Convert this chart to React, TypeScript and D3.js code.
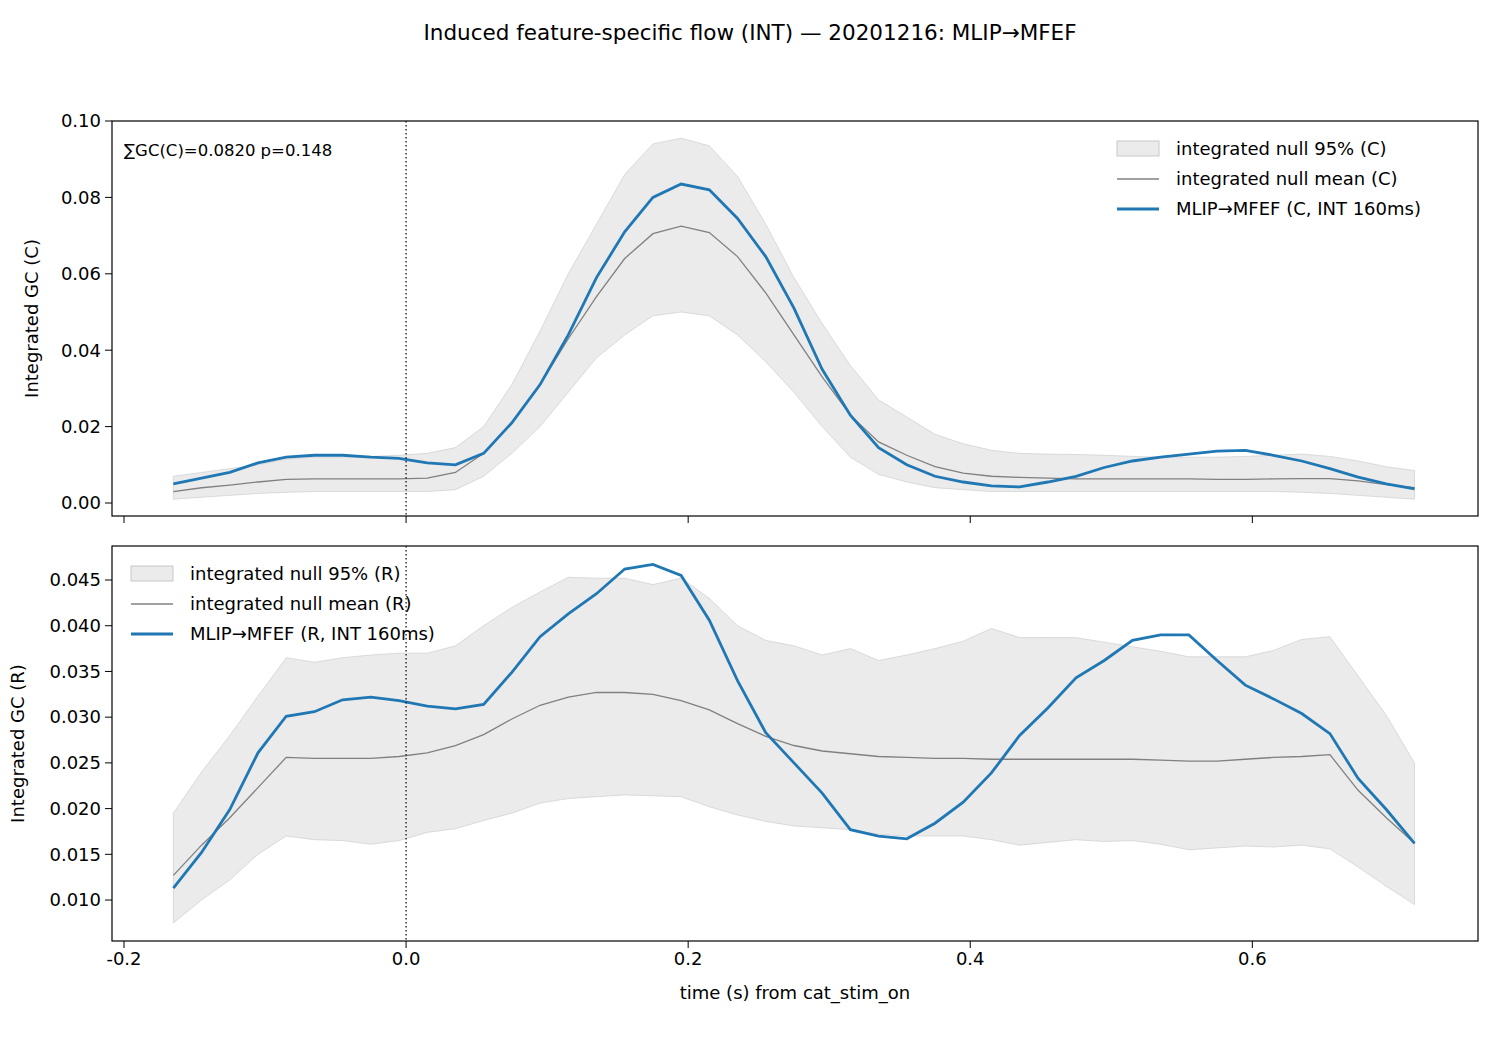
import * as d3 from "d3";

const t0 = -0.165;
const times = d3.range(45).map((i) => +(t0 + 0.02 * i).toFixed(3));

const gcC = [0.005,0.0065,0.008,0.0105,0.012,0.0125,0.0125,0.012,0.0117,0.0105,0.010,0.013,0.021,0.031,0.044,0.059,0.071,0.080,0.0835,0.082,0.0745,0.0645,0.051,0.035,0.023,0.0145,0.010,0.007,0.0055,0.0045,0.0042,0.0055,0.007,0.0093,0.011,0.012,0.0128,0.0136,0.0138,0.0125,0.011,0.009,0.0068,0.005,0.0037];
const meanC = [0.003,0.004,0.0047,0.0055,0.0062,0.0063,0.0063,0.0063,0.0063,0.0065,0.008,0.013,0.021,0.031,0.043,0.054,0.064,0.0705,0.0725,0.0708,0.0645,0.055,0.044,0.033,0.023,0.016,0.0125,0.0095,0.0078,0.007,0.0067,0.0065,0.0063,0.0063,0.0063,0.0063,0.0063,0.0062,0.0062,0.0063,0.0064,0.0064,0.0058,0.0048,0.004];
const hiC = [0.007,0.008,0.009,0.010,0.0115,0.012,0.012,0.0122,0.0125,0.013,0.0145,0.020,0.031,0.045,0.060,0.073,0.086,0.094,0.0955,0.0935,0.0855,0.073,0.059,0.047,0.036,0.027,0.0225,0.018,0.0155,0.0138,0.013,0.0128,0.0127,0.0125,0.0122,0.012,0.012,0.012,0.0122,0.0125,0.0128,0.0122,0.011,0.0095,0.0085];
const loC = [0.001,0.0015,0.002,0.0025,0.0028,0.003,0.003,0.003,0.003,0.003,0.0035,0.007,0.013,0.020,0.029,0.038,0.044,0.049,0.050,0.049,0.044,0.037,0.029,0.020,0.012,0.0075,0.0055,0.004,0.0035,0.003,0.003,0.003,0.003,0.003,0.003,0.003,0.003,0.003,0.003,0.003,0.0028,0.0025,0.002,0.0015,0.001];

const gcR = [0.0113,0.0152,0.0199,0.0261,0.0301,0.0306,0.0319,0.0322,0.0318,0.0312,0.0309,0.0314,0.0349,0.0388,0.0413,0.0435,0.0462,0.0467,0.0455,0.0406,0.034,0.0283,0.025,0.0217,0.0177,0.017,0.0167,0.0184,0.0207,0.0239,0.028,0.031,0.0343,0.0362,0.0384,0.039,0.039,0.0362,0.0335,0.032,0.0304,0.0282,0.0233,0.0199,0.0162];
const meanR = [0.0127,0.016,0.019,0.0223,0.0256,0.0255,0.0255,0.0255,0.0257,0.0261,0.0269,0.0281,0.0298,0.0313,0.0322,0.0327,0.0327,0.0325,0.0318,0.0308,0.0293,0.0279,0.0269,0.0263,0.026,0.0257,0.0256,0.0255,0.0255,0.0254,0.0254,0.0254,0.0254,0.0254,0.0254,0.0253,0.0252,0.0252,0.0254,0.0256,0.0257,0.0259,0.022,0.019,0.0162];
const hiR = [0.0195,0.024,0.028,0.0323,0.0365,0.036,0.0365,0.0368,0.037,0.037,0.0378,0.040,0.042,0.0437,0.0453,0.0452,0.0452,0.0445,0.0452,0.043,0.040,0.0384,0.0378,0.0368,0.0375,0.0362,0.0368,0.0375,0.0383,0.0397,0.0387,0.0387,0.0387,0.0382,0.0377,0.0372,0.0366,0.0366,0.0366,0.0373,0.0385,0.0388,0.0345,0.0302,0.025];
const loR = [0.0075,0.010,0.0122,0.015,0.017,0.0166,0.0165,0.0161,0.0165,0.0174,0.0178,0.0187,0.0195,0.0206,0.0211,0.0213,0.0215,0.0214,0.0213,0.0202,0.0193,0.0186,0.0181,0.0179,0.0177,0.0172,0.017,0.017,0.017,0.0166,0.016,0.0163,0.0166,0.0164,0.0165,0.0161,0.0155,0.0157,0.0159,0.0158,0.016,0.0156,0.0136,0.0115,0.0095];

const xTicks = [-0.2, 0, 0.2, 0.4, 0.6];
const yTicksC = [0, 0.02, 0.04, 0.06, 0.08, 0.1];
const yTicksR = [0.01, 0.015, 0.02, 0.025, 0.03, 0.035, 0.04, 0.045];

const FONT = "DejaVu Sans, sans-serif";
const BLUE = "#1f77b4";
const FS = 18;
const left = 112, right = 1478;
const x = d3.scaleLinear().domain([-0.2085, 0.76]).range([left, right]);

function Panel({ top, bottom, domain, ticks, fmt, gc, mean, hi, lo, tag, ylabel, showX, legendLeft, stat, ylabelX }: any) {
  const y = d3.scaleLinear().domain(domain).range([bottom, top]);
  const idx = d3.range(times.length);
  const area = d3.area<number>().x((i) => x(times[i])).y0((i) => y(lo[i])).y1((i) => y(hi[i]));
  const line = (arr: number[]) => d3.line<number>().x((i) => x(times[i])).y((i) => y(arr[i]))(idx) || "";
  const lx = legendLeft ? 131 : 1117;
  const ly = top + 28;
  const items = [`integrated null 95% (${tag})`, `integrated null mean (${tag})`, `MLIP→MFEF (${tag}, INT 160ms)`];
  return (
    <g fontFamily={FONT}>
      <defs>
        <clipPath id={`clip${tag}`}><rect x={left} y={top} width={right - left} height={bottom - top} /></clipPath>
      </defs>
      <g clipPath={`url(#clip${tag})`}>
        <path d={area(idx) || ""} fill="#d3d3d3" fillOpacity={0.45} stroke="#c8c8c8" strokeOpacity={0.6} strokeWidth={1} />
        <path d={line(mean)} fill="none" stroke="#808080" strokeWidth={1.3} />
        <path d={line(gc)} fill="none" stroke={BLUE} strokeWidth={2.8} />
        <line x1={x(0)} x2={x(0)} y1={top} y2={bottom} stroke="#000" strokeWidth={1.2} strokeDasharray="1.5,2.5" />
      </g>
      <rect x={left} y={top} width={right - left} height={bottom - top} fill="none" stroke="#000" strokeWidth={1.2} />
      {ticks.map((t: number) => (
        <g key={t}>
          <line x1={left - 7} x2={left} y1={y(t)} y2={y(t)} stroke="#000" />
          <text x={left - 11} y={y(t)} dy="0.35em" textAnchor="end" fontSize={FS}>{fmt(t)}</text>
        </g>
      ))}
      {xTicks.map((t) => (
        <g key={t}>
          <line x1={x(t)} x2={x(t)} y1={bottom} y2={bottom + 7} stroke="#000" />
          {showX && <text x={x(t)} y={bottom + 10} dy="0.8em" textAnchor="middle" fontSize={FS}>{t.toFixed(1)}</text>}
        </g>
      ))}
      <text transform={`translate(${ylabelX},${(top + bottom) / 2}) rotate(-90)`} dy="0.35em" textAnchor="middle" fontSize={FS}>{ylabel}</text>
      {stat && <text x={left + 12} y={top + 29} dy="0.35em" fontSize={16.5}>{stat}</text>}
      <g>
        <rect x={lx} y={ly - 8} width={42} height={15} fill="#d3d3d3" fillOpacity={0.45} stroke="#c8c8c8" />
        <line x1={lx} x2={lx + 42} y1={ly + 30} y2={ly + 30} stroke="#808080" strokeWidth={1.3} />
        <line x1={lx} x2={lx + 42} y1={ly + 60} y2={ly + 60} stroke={BLUE} strokeWidth={2.8} />
        {items.map((s, i) => (
          <text key={s} x={lx + 59} y={ly + i * 30} dy="0.35em" fontSize={FS}>{s}</text>
        ))}
      </g>
    </g>
  );
}

export default function App() {
  return (
    <svg width={1500} height={1050} style={{ display: "block", margin: -8, background: "#fff" }}>
      <text x={750} y={32} dy="0.35em" textAnchor="middle" fontFamily={FONT} fontSize={21.5}>Induced feature-specific flow (INT) — 20201216: MLIP→MFEF</text>
      <Panel top={121} bottom={516} domain={[-0.0034, 0.1]} ticks={yTicksC} fmt={(t: number) => t.toFixed(2)}
        gc={gcC} mean={meanC} hi={hiC} lo={loC} tag="C" ylabel="Integrated GC (C)" showX={false} legendLeft={false}
        stat="∑GC(C)=0.0820  p=0.148" ylabelX={32} />
      <Panel top={546} bottom={941} domain={[0.00552, 0.04872]} ticks={yTicksR} fmt={(t: number) => t.toFixed(3)}
        gc={gcR} mean={meanR} hi={hiR} lo={loR} tag="R" ylabel="Integrated GC (R)" showX={true} legendLeft={true} ylabelX={18} />
      <text x={795} y={993} dy="0.35em" textAnchor="middle" fontFamily={FONT} fontSize={FS}>time (s) from cat_stim_on</text>
    </svg>
  );
}
